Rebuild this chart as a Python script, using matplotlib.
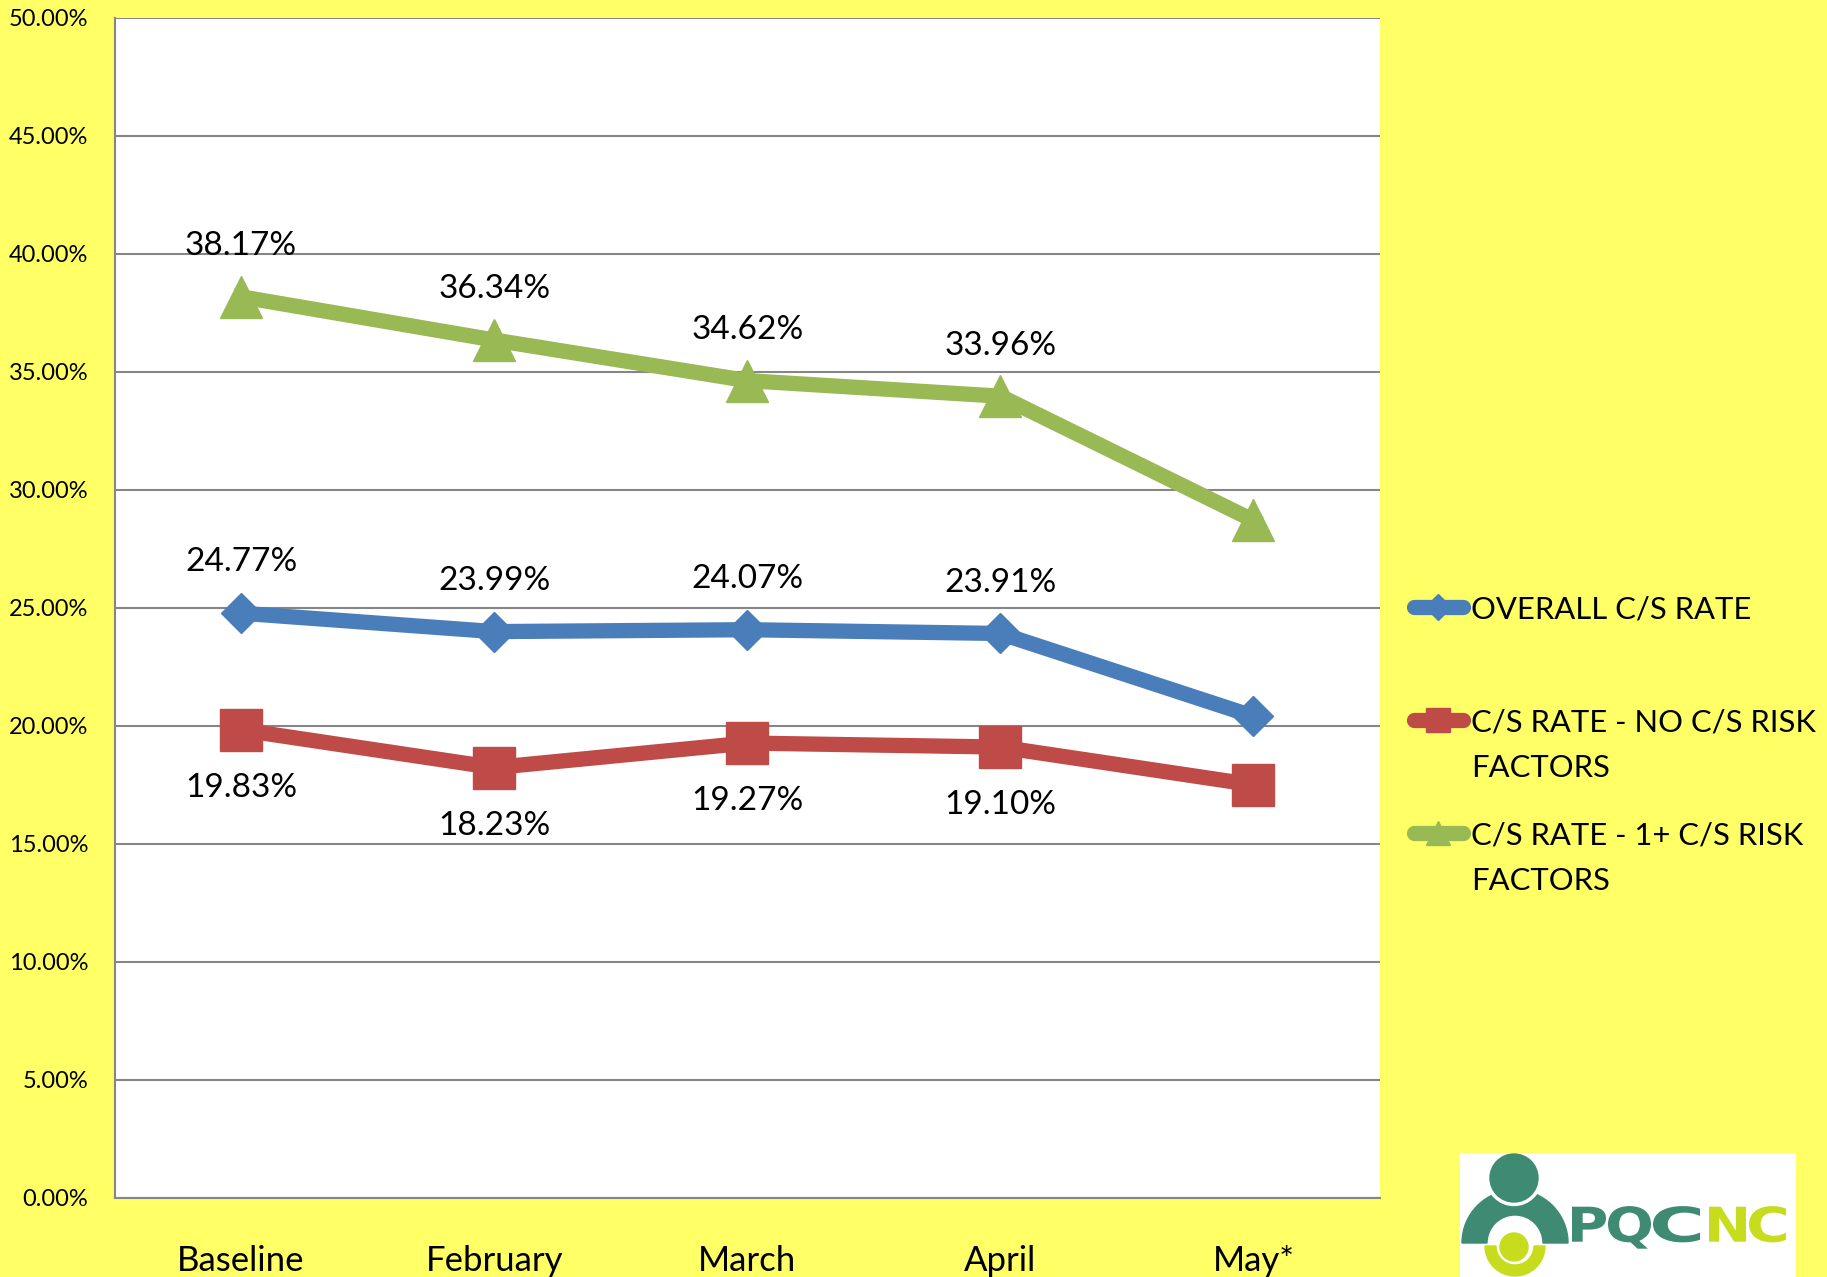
import numpy as np
import matplotlib
matplotlib.use("Agg")
from matplotlib import pyplot as plt
from matplotlib.lines import Line2D
from matplotlib.patches import Circle, Wedge, PathPatch
from matplotlib.ticker import FuncFormatter
from matplotlib.textpath import TextPath
from matplotlib.font_manager import FontProperties
from matplotlib.transforms import Affine2D

plt.rcParams['font.family'] = ['Lato', 'DejaVu Sans']

months = ["Baseline", "February", "March", "April", "May*"]
overall = [24.77, 23.99, 24.07, 23.91, 20.4]
no_risk = [19.83, 18.23, 19.27, 19.10, 17.5]
with_risk = [38.17, 36.34, 34.62, 33.96, 28.7]
n_labelled = 4  # May* has no data labels

series_names = ["OVERALL C/S RATE", "C/S RATE - NO C/S RISK\nFACTORS",
                "C/S RATE - 1+ C/S RISK\nFACTORS"]

blue = '#4A7EBB'
red = '#BE4B48'
green = '#98B954'
yellow = '#FFFF66'
grid_col = '#868686'

W, H = 1827, 1277


def fx(px):
    return px / W


def fy(py):
    return 1 - py / H


fig = plt.figure(figsize=(W / 100, H / 100), dpi=100, facecolor=yellow)
ax = fig.add_axes([fx(114.5), fy(1198), fx(1380) - fx(114.5), fy(17.5) - fy(1198)])
ax.set_facecolor('white')

x = np.arange(len(months))
ax.plot(x, with_risk, color=green, lw=11, marker='^', ms=30, solid_joinstyle='round', zorder=3)
ax.plot(x, overall, color=blue, lw=11, marker='D', ms=20.5, solid_joinstyle='round', zorder=3)
ax.plot(x, no_risk, color=red, lw=11, marker='s', ms=30, solid_joinstyle='round', zorder=3)

for i in range(n_labelled):
    ax.annotate(f"{with_risk[i]:.2f}%", (x[i], with_risk[i]), xytext=(0, 36.5),
                textcoords='offset points', ha='center', va='center', fontsize=24)
    ax.annotate(f"{overall[i]:.2f}%", (x[i], overall[i]), xytext=(0, 36.5),
                textcoords='offset points', ha='center', va='center', fontsize=24)
    ax.annotate(f"{no_risk[i]:.2f}%", (x[i], no_risk[i]), xytext=(0, -42),
                textcoords='offset points', ha='center', va='center', fontsize=24)

ax.set_xlim(-0.5, 4.5)
ax.set_ylim(0, 50)
ax.set_yticks(np.arange(0, 50.01, 5))
ax.yaxis.set_major_formatter(FuncFormatter(lambda v, p: f"{v:.2f}%"))
ax.set_xticks(x)
ax.set_xticklabels(months)
ax.tick_params(axis='y', length=0, pad=19, labelsize=17)
ax.tick_params(axis='x', length=0, pad=34, labelsize=25)
ax.yaxis.grid(True, color=grid_col, lw=1.5)
ax.set_axisbelow(True)
for s in ['top', 'right']:
    ax.spines[s].set_visible(False)
for s in ['left', 'bottom']:
    ax.spines[s].set_color(grid_col)
    ax.spines[s].set_linewidth(1.5)

# legend drawn by hand so the handle sits on the first text line
legend_rows = [(607, blue, 'D', 13), (720, red, 's', 17), (833, green, '^', 17)]
line_gap = 45.4
for (ly, col, mk, ms), name in zip(legend_rows, series_names):
    fig.add_artist(Line2D([fx(1414), fx(1463)], [fy(ly), fy(ly)], transform=fig.transFigure,
                          color=col, lw=11, solid_capstyle='round'))
    fig.add_artist(Line2D([fx(1438)], [fy(ly)], transform=fig.transFigure,
                          color=col, marker=mk, ms=ms, lw=0))
    # baseline alignment uses the last line of a multi-line text
    last_base = ly + 11.5 + name.count('\n') * line_gap
    fig.text(fx(1471), fy(last_base), name, fontsize=22.3, ha='left', va='baseline',
             linespacing=1.77)

# PQCNC logo
teal = '#3E8A73'
lime = '#C8DC1E'
lax = fig.add_axes([fx(1460), 0, fx(1796) - fx(1460), fy(1153)])
lax.set_xlim(0, 336)
lax.set_ylim(124, 0)
lax.set_xticks([])
lax.set_yticks([])
for s in lax.spines.values():
    s.set_visible(False)
lax.set_facecolor('white')
lax.add_patch(Wedge((55, 90), 53, 180, 360, width=25, color=teal))
lax.add_patch(Circle((54, 25), 27.5, color='white'))
lax.add_patch(Circle((54, 25), 24, color=teal))
lax.add_patch(Circle((54, 94), 14, color=lime))
lax.add_patch(Wedge((55, 93), 30, 0, 180, width=11, color=lime))

fp = FontProperties(family='DejaVu Sans', weight='bold')
cap = TextPath((0, 0), 'P', size=48, prop=fp).get_extents().height
sy = 35 / cap
letters = [('P', 112, 146, teal), ('Q', 148, 191, teal), ('C', 193, 240, teal),
           ('N', 249, 286, lime), ('C', 289, 326, lime)]
for ch, x0, x1, col in letters:
    tp = TextPath((0, 0), ch, size=48, prop=fp)
    ext = tp.get_extents()
    sx = (x1 - x0) / ext.width
    tr = Affine2D().translate(-ext.x0, 0).scale(sx, -sy).translate(x0, 88.7) + lax.transData
    lax.add_patch(PathPatch(tp, transform=tr, color=col, lw=0))

fig.savefig("out.png", dpi=100, facecolor=yellow)
